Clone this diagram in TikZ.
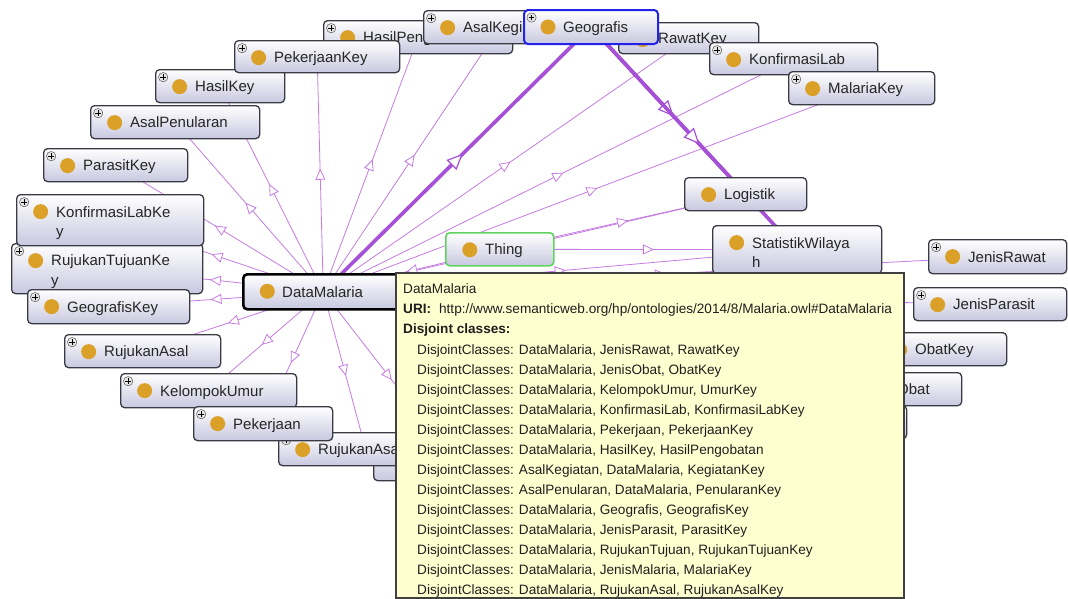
\documentclass[tikz,border=0pt]{standalone}
\usepackage{fontspec}
\setmainfont{Liberation Sans}
\usetikzlibrary{arrows.meta,decorations.markings,backgrounds}

\definecolor{boxline}{HTML}{3A3A44}
\definecolor{boxshade}{HTML}{C8C8E0}
\definecolor{dotorange}{HTML}{DBA027}
\definecolor{isaline}{HTML}{C67CE2}
\definecolor{isadark}{HTML}{A650D8}
\definecolor{tipyellow}{HTML}{FFFFD0}
\definecolor{selblue}{HTML}{2222E8}
\definecolor{thinggreen}{HTML}{5FD35F}

% icons inside a class box
\newcommand{\clsdot}{\fill[dotorange] ([shift={(24pt,-17pt)}]path picture bounding box.north west) circle (7.5pt);}
\newcommand{\clsplus}{%
  \draw[black!65, fill=black!10, line width=0.5pt] ([shift={(3pt,-3pt)}]path picture bounding box.north west) rectangle ++(9pt,-9pt);
  \draw[black, line width=0.9pt] ([shift={(4.8pt,-7.5pt)}]path picture bounding box.north west) -- ++(5.4pt,0pt)
    ([shift={(7.5pt,-4.8pt)}]path picture bounding box.north west) -- ++(0pt,-5.4pt);}

\begin{document}
\begin{tikzpicture}[x=1pt, y=-1pt,
    clsbox/.style={rectangle, rounded corners=4pt, draw=boxline, line width=1.3pt,
        top color=white, bottom color=boxshade, anchor=north west, inner sep=0pt,
        minimum height=33pt},
    clslabel/.style={anchor=west, xshift=40pt, inner sep=0pt, align=left,
        font=\fontsize{15}{19.5}\selectfont, text=black!85},
    oneline/.style={text height=11pt, text depth=4pt, yshift=-2pt},
    twoline/.style={yshift=-3pt},
    cls/.style={clsbox, path picture={\clsdot}, label={[clslabel, oneline]west:#1}},
    clsp/.style={clsbox, path picture={\clsdot\clsplus}, label={[clslabel, oneline]west:#1}},
    cls2/.style={clsbox, path picture={\clsdot}, label={[clslabel, twoline]west:#1}},
    clsp2/.style={clsbox, path picture={\clsdot\clsplus}, label={[clslabel, twoline]west:#1}},
    isa/.style={draw=isaline, line width=0.8pt, postaction={decorate}, decoration={markings,
        mark=at position 0.5 with {\arrow[xshift=5.5pt]{Triangle[color=isaline, fill=white, length=11pt, width=10pt, line width=0.8pt]}}}},
    isathick/.style={draw=isadark, line width=3.6pt, postaction={decorate}, decoration={markings,
        mark=at position 0.5 with {\arrow[xshift=8pt]{Triangle[color=isadark, fill=white, length=16pt, width=14pt, line width=1.2pt]}}}},
    tipbox/.style={rectangle, draw=black!75, line width=1.5pt, fill=tipyellow, anchor=north west, inner sep=0pt},
    tiptext/.style={anchor=base west, inner sep=0pt, font=\fontsize{13.6}{16}\selectfont, text=black!88}]

    \useasboundingbox (0,0) rectangle (1068,598);

    % upper row
    \node[clsp=HasilKey, minimum width=129pt] (hasilKey) at (155,69) {};
    \node[clsp=HasilPengobatan, minimum width=189pt] (hasilPengobatan) at (323,20) {};
    \node[clsp=PekerjaanKey, minimum width=165pt, minimum height=32pt] (pekerjaanKey) at (234,40) {};
    \node[clsp=AsalKegiatan, minimum width=152pt] (asalKegiatan) at (423,10) {};
    \node[clsp=RawatKey, minimum width=140pt, minimum height=31pt] (rawatKey) at (618,22) {};
    \node[clsp=Geografis, minimum width=134pt, minimum height=34pt, draw=selblue, line width=2pt] (geografis) at (523,9) {};
    \node[clsp=KonfirmasiLab, minimum width=168pt, minimum height=32pt] (konfirmasiLab) at (709,42) {};
    \node[clsp=MalariaKey, minimum width=146pt] (malariaKey) at (788,71) {};

    % left side
    \node[clsp=AsalPenularan, minimum width=169pt] (asalPenularan) at (90,105) {};
    \node[clsp=ParasitKey, minimum width=144pt] (parasitKey) at (43,148) {};
    \node[clsp2={RujukanTujuanKe\\y}, minimum width=191pt, minimum height=50pt] (rujukanTujuanKey) at (11,243) {};
    \node[clsp2={KonfirmasiLabKe\\y}, minimum width=187pt, minimum height=51pt] (konfirmasiLabKey) at (16,194) {};
    \node[clsp=GeografisKey, minimum width=162pt, minimum height=34pt] (geografisKey) at (27,289) {};
    \node[cls=DataMalaria, minimum width=160pt, minimum height=35pt, draw=black, line width=2.6pt] (dataMalaria) at (242,273) {};
    \node[clsp=RujukanAsal, minimum width=156pt] (rujukanAsal) at (64,334) {};
    \node[clsp=KelompokUmur, minimum width=176pt, minimum height=34pt] (kelompokUmur) at (120,373) {};
    \node[clsp={}, minimum width=160pt, minimum height=42pt] (hiddenLow) at (373,438) {};
    \node[clsp=RujukanAsalKey, minimum width=174pt] (rujukanAsalKey) at (278,432) {};
    \node[clsp=Pekerjaan, minimum width=139pt, minimum height=34pt] (pekerjaan) at (193,406) {};

    % right side
    \node[cls=Thing, minimum width=108pt, draw=thinggreen, line width=1.6pt] (thing) at (445,232) {};
    \node[cls=Logistik, minimum width=122pt] (logistik) at (684,177) {};
    \node[cls2={StatistikWilaya\\h}, minimum width=169pt, minimum height=48pt] (statistikWilayah) at (712,225) {};
    \node[clsp=JenisRawat, minimum width=138pt, minimum height=34pt] (jenisRawat) at (928,239) {};
    \node[clsp=JenisParasit, minimum width=153pt] (jenisParasit) at (913,287) {};
    \node[clsp=ObatKey, minimum width=131pt] (obatKey) at (875,332) {};
    \node[clsp=JenisObat, minimum width=139pt] (jenisObat) at (822,372) {};
    \node[clsp={}, minimum width=166pt] (hiddenRight) at (740,405) {};

    % tooltip
    \node[tipbox, minimum width=508pt, minimum height=325pt] (tip) at (395,272) {};
    \node[tiptext] (tipTitle) at (403,293) {DataMalaria};
    \node[tiptext] (tipUri) at (403,313) {\textbf{URI:}\hspace{8pt}http://www.semanticweb.org/hp/ontologies/2014/8/Malaria.owl\#DataMalaria};
    \node[tiptext] (tipDisjoint) at (403,333) {\textbf{Disjoint classes:}};
    \foreach \c [count=\i from 0] in {{DataMalaria, JenisRawat, RawatKey},
        {DataMalaria, JenisObat, ObatKey},
        {DataMalaria, KelompokUmur, UmurKey},
        {DataMalaria, KonfirmasiLab, KonfirmasiLabKey},
        {DataMalaria, Pekerjaan, PekerjaanKey},
        {DataMalaria, HasilKey, HasilPengobatan},
        {AsalKegiatan, DataMalaria, KegiatanKey},
        {AsalPenularan, DataMalaria, PenularanKey},
        {DataMalaria, Geografis, GeografisKey},
        {DataMalaria, JenisParasit, ParasitKey},
        {DataMalaria, RujukanTujuan, RujukanTujuanKey},
        {DataMalaria, JenisMalaria, MalariaKey},
        {DataMalaria, RujukanAsal, RujukanAsalKey}}
        \node[tiptext] (dj\i) at (417,354+20*\i) {DisjointClasses: \c};

    % connectors behind the boxes
    \begin{scope}[on background layer]
        \fill[white] (0,0) rectangle (1068,598);
        \foreach \n in {hasilKey, hasilPengobatan, pekerjaanKey, asalKegiatan, rawatKey,
            konfirmasiLab, malariaKey, asalPenularan, parasitKey, konfirmasiLabKey,
            rujukanTujuanKey, geografisKey, rujukanAsal, kelompokUmur, pekerjaan,
            rujukanAsalKey, hiddenLow, logistik, statistikWilayah, jenisRawat,
            jenisParasit, obatKey, jenisObat, hiddenRight}
            \draw[isa] (dataMalaria.center) -- (\n.center);
        \foreach \n in {dataMalaria, logistik, statistikWilayah}
            \draw[isa] (thing.center) -- (\n.center);
        \draw[isathick] (dataMalaria.center) -- (geografis.center);
        \draw[isathick] (geografis.center) -- (logistik.center);
        \draw[isathick] (geografis.center) -- (statistikWilayah.center);
    \end{scope}
\end{tikzpicture}
\end{document}
